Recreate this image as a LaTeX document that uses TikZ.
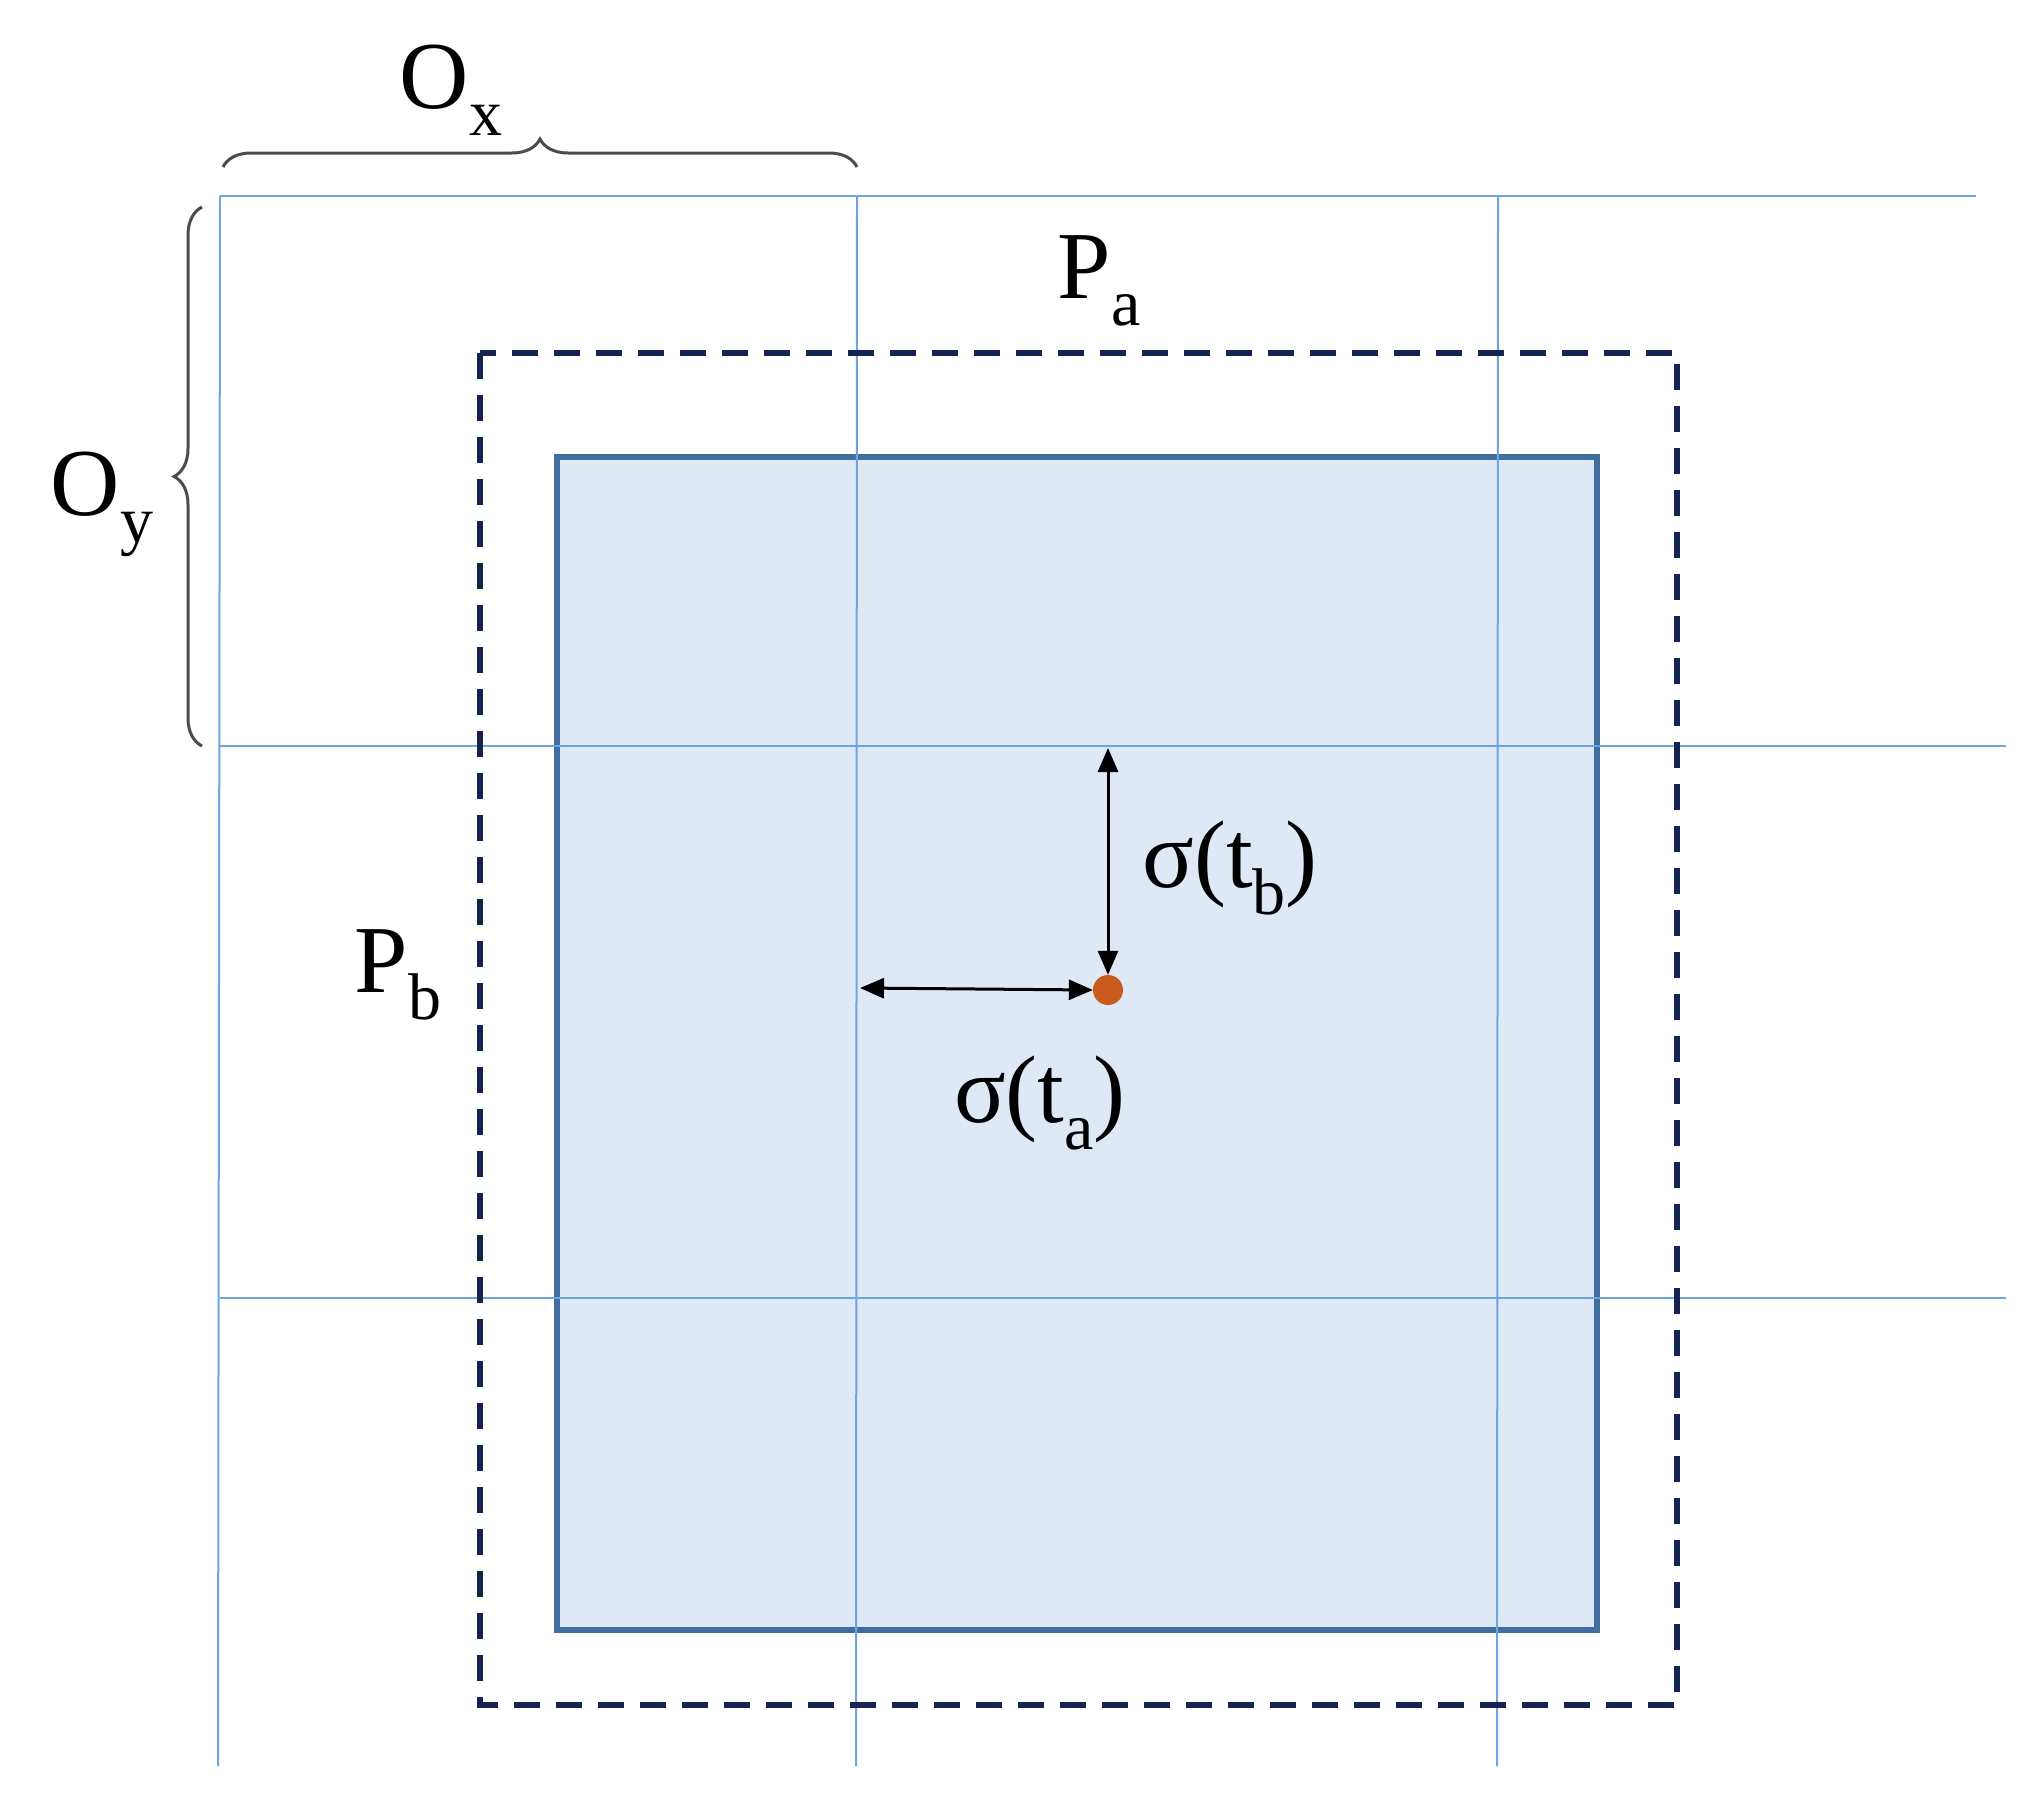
\documentclass[tikz,border=0pt]{standalone}
\usepackage{fontspec}
\setmainfont{Liberation Serif}
\usetikzlibrary{arrows.meta,decorations.pathreplacing}
\definecolor{gridc}{RGB}{110,165,225}
\definecolor{boxc}{RGB}{65,110,160}
\definecolor{fillc}{RGB}{222,233,245}
\definecolor{navy}{RGB}{20,35,80}
\definecolor{dotc}{RGB}{200,90,30}
\newcommand{\lbl}[2]{#1\raisebox{-0.28em}{\fontsize{66}{66}\selectfont #2}}
\tikzset{
  grid/.style={gridc, line width=2pt},
  lab/.style={font=\fontsize{96}{96}\selectfont, inner sep=0pt},
  dim/.style={black, line width=3pt, {Triangle[length=24pt,width=20pt]}-{Triangle[length=24pt,width=20pt]}},
  br/.style={black!70, line width=3pt, decorate, decoration={brace, amplitude=28pt}}
}
\begin{document}
\begin{tikzpicture}[x=1pt,y=-1pt]
\useasboundingbox (0,0) rectangle (2041,1809);
\fill[white] (0,0) rectangle (2041,1809);
% solid box
\draw[boxc, fill=fillc, line width=6pt] (557,457) rectangle (1597,1630);
% grid
\draw[grid] (220,196) -- (1976,196);
\draw[grid] (220,746) -- (2006,746);
\draw[grid] (220,1298) -- (2006,1298);
\draw[grid] (220,196) -- (218,1766);
\draw[grid] (857,196) -- (856,1766);
\draw[grid] (1498,196) -- (1497,1766);
% dashed box
\draw[navy, line width=6pt, dash pattern=on 26pt off 16pt] (480,353) rectangle (1677,1705);
% braces
\draw[br] (223,167) -- (857,167);
\draw[br] (202,746) -- (202,207);
% dot and arrows
\node[circle, fill=dotc, minimum size=30pt, inner sep=0pt] (dot) at (1108,990) {};
\coordinate (top) at (1108,748);
\coordinate (left) at (860,988);
\draw[dim] (top) -- (dot.north);
\draw[dim] (left) -- (dot.west);
% labels
\node[lab] (ox) at (451,90) {\lbl{O}{x}};
\node[lab] (oy) at (102,504) {\lbl{O}{y}};
\node[lab] (pa) at (1099,281) {\lbl{P}{a}};
\node[lab] (pb) at (398,975) {\lbl{P}{b}};
\node[lab] (stb) at (1230,868) {σ(\lbl{t}{b})};
\node[lab] (sta) at (1040,1103) {σ(\lbl{t}{a})};
\end{tikzpicture}
\end{document}
